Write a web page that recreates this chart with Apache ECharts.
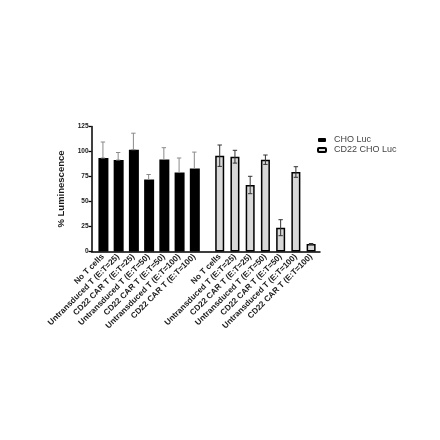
<!DOCTYPE html>
<html>
<head>
<meta charset="utf-8">
<script src="https://cdn.jsdelivr.net/npm/echarts@6/dist/echarts.min.js"></script>
<style>
  html, body { margin: 0; padding: 0; background: #fff; }
  #main { width: 440px; height: 440px; }
</style>
</head>
<body>
<div id="main"></div>
<script>
// 各グループの条件ラベル
const labels = [
  'No T cells',
  'Untransduced T (E:T=25)',
  'CD22 CAR T (E:T=25)',
  'Untransduced T (E:T=50)',
  'CD22 CAR T (E:T=50)',
  'Untransduced T (E:T=100)',
  'CD22 CAR T (E:T=100)'
];
// CHO Luc（黒）
const choLuc = [93.5, 91.5, 101.8, 72, 92, 79, 83];
const choLucErr = [16, 7.5, 16.5, 5, 11.8, 14.5, 16.4];
// CD22 CHO Luc（灰）
const cd22Luc = [95.8, 94.8, 66.5, 91.8, 23.8, 79.5, 7.5];
const cd22LucErr = [10.7, 6.4, 8.7, 4.7, 8, 5.3, 0.5];
const yTicks = [0, 25, 50, 75, 100, 125];

// 横軸は細かいスロットに分けて、グループ間の隙間を作る
const slotCount = 90;
const blackSlots = labels.map((_, i) => 4 + 6 * i);
const graySlots = labels.map((_, i) => 50 + 6 * i);

const cats = [];
for (let i = 0; i < slotCount; i++) cats.push('s' + i);
const labelAt = {};
blackSlots.forEach((s, i) => { cats[s] = labels[i] + '\u200b'; labelAt[s] = true; });
graySlots.forEach((s, i) => { cats[s] = labels[i] + '\u200b\u200b'; labelAt[s] = true; });

const blackData = cats.map(() => '-');
const grayData = cats.map(() => '-');
blackSlots.forEach((s, i) => { blackData[s] = choLuc[i]; });
graySlots.forEach((s, i) => { grayData[s] = cd22Luc[i]; });

const blackErr = blackSlots.map((s, i) => [s, choLuc[i], choLuc[i] + choLucErr[i]]);
const grayErr = graySlots.map((s, i) => [s, cd22Luc[i] - cd22LucErr[i], cd22Luc[i] + cd22LucErr[i]]);

function errorBar(color) {
  return function (params, api) {
    const x = api.value(0);
    const lo = api.coord([x, api.value(1)]);
    const hi = api.coord([x, api.value(2)]);
    const capW = 2.2;
    const style = { stroke: color, lineWidth: 1 };
    return {
      type: 'group',
      children: [
        { type: 'line', shape: { x1: hi[0], y1: hi[1], x2: lo[0], y2: lo[1] }, style: style },
        { type: 'line', shape: { x1: hi[0] - capW, y1: hi[1], x2: hi[0] + capW, y2: hi[1] }, style: style },
        { type: 'line', shape: { x1: lo[0] - capW, y1: lo[1], x2: lo[0] + capW, y2: lo[1] }, style: style }
      ]
    };
  };
}

const font = 'Arial, "Liberation Sans", sans-serif';
const myChart = echarts.init(document.getElementById('main'));

const option = {
  animation: false,
  textStyle: { fontFamily: font },
  legend: {
    orient: 'vertical',
    left: 312,
    top: 130,
    itemWidth: 8,
    itemHeight: 4,
    itemGap: 0,
    data: ['CHO Luc', 'CD22 CHO Luc'],
    textStyle: { fontSize: 9, color: '#444', lineHeight: 10, padding: [0, 0, 0, 3] }
  },
  grid: { left: 91.5, right: 120, top: 126.5, bottom: 188.5 },
  xAxis: {
    type: 'category',
    data: cats,
    axisLine: { lineStyle: { color: '#000', width: 1.5 } },
    axisTick: {
      alignWithLabel: true,
      length: 4,
      interval: (idx) => !!labelAt[idx],
      lineStyle: { color: '#000', width: 1.5 }
    },
    axisLabel: {
      interval: (idx) => !!labelAt[idx],
      rotate: 45,
      margin: 4,
      fontSize: 8.2,
      fontWeight: 'bold',
      color: '#1a1a1a',
      formatter: (v) => v.replace(/\u200b/g, '')
    }
  },
  yAxis: {
    type: 'value',
    min: yTicks[0],
    max: yTicks[yTicks.length - 1],
    interval: 25,
    name: '% Luminescence',
    nameLocation: 'middle',
    nameGap: 17,
    nameTextStyle: { fontSize: 9.5, fontWeight: 'bold', color: '#1a1a1a' },
    splitLine: { show: false },
    axisLine: { show: true, lineStyle: { color: '#000', width: 1.5 } },
    axisTick: { show: true, length: 3, lineStyle: { color: '#000', width: 1.3 } },
    axisLabel: { fontSize: 6.5, fontWeight: 'bold', color: '#1a1a1a', margin: 3 }
  },
  series: [
    {
      name: 'CHO Luc',
      type: 'bar',
      data: blackData,
      barWidth: 10,
      barGap: '-100%',
      itemStyle: { color: '#000' }
    },
    {
      name: 'CD22 CHO Luc',
      type: 'bar',
      data: grayData,
      barWidth: 9,
      barGap: '-100%',
      itemStyle: { color: '#d8d8d8', borderColor: '#000', borderWidth: 1.5 }
    },
    {
      type: 'custom',
      data: blackErr,
      renderItem: errorBar('#8a8a8a'),
      encode: { x: 0, y: [1, 2] },
      z: 5
    },
    {
      type: 'custom',
      data: grayErr,
      renderItem: errorBar('#333'),
      encode: { x: 0, y: [1, 2] },
      z: 5
    }
  ]
};

myChart.setOption(option);
</script>
</body>
</html>
